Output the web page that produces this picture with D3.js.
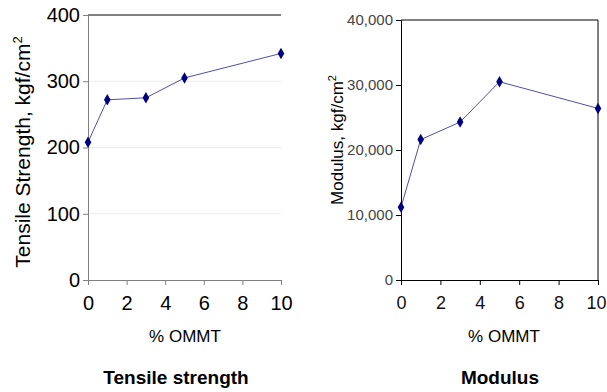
<!DOCTYPE html>
<html>
<head>
<meta charset="utf-8">
<script src="https://cdn.jsdelivr.net/npm/d3@7"></script>
<style>
  body { margin: 0; background: #fff; }
  svg { display: block; }
</style>
</head>
<body>
<script>
// % OMMT loading
var ommt = [0, 1, 3, 5, 10];
// tensile strength, kgf/cm2
var tensile = [208, 272, 275, 305, 342];
// modulus, kgf/cm2
var modulus = [11200, 21600, 24300, 30500, 26400];
var xTicks = [0, 2, 4, 6, 8, 10];
var tensileTicks = [0, 100, 200, 300, 400];
var modulusTicks = [0, 10000, 20000, 30000, 40000];

const width = 607, height = 392;
const sans = "Liberation Sans, Arial, sans-serif";
const narrow = "Liberation Sans Narrow, Arial Narrow, sans-serif";

var svg = d3.select("body").append("svg")
  .attr("width", width)
  .attr("height", height);

function diamond(g, x, y, vals, color) {
  g.selectAll(".pt").data(vals).enter().append("path")
    .attr("class", "pt")
    .attr("d", d3.symbol().type(d3.symbolDiamond).size(38))
    .attr("transform", (d, i) => `translate(${x(ommt[i])},${y(d)})`)
    .attr("fill", color);
}

// ---- left panel: tensile strength ----
(function () {
  var x = d3.scaleLinear().domain([0, 10]).range([88, 281]);
  var y = d3.scaleLinear().domain([0, 400]).range([280, 15]);
  var g = svg.append("g");

  // faint gridlines
  g.selectAll(".grid").data(tensileTicks.slice(1, -1)).enter().append("line")
    .attr("x1", x(0)).attr("x2", x(10))
    .attr("y1", d => y(d)).attr("y2", d => y(d))
    .attr("stroke", "#ececec");
  // top line
  g.append("line")
    .attr("x1", x(0)).attr("x2", x(10))
    .attr("y1", y(400)).attr("y2", y(400))
    .attr("stroke", "#000");

  var yAxis = d3.axisLeft(y).tickValues(tensileTicks).tickSize(5).tickPadding(3);
  var xAxis = d3.axisBottom(x).tickValues(xTicks).tickSize(5).tickPadding(11);
  var ya = g.append("g").attr("transform", `translate(${x(0)},0)`).call(yAxis);
  var xa = g.append("g").attr("transform", `translate(0,${y(0)})`).call(xAxis);
  [ya, xa].forEach(a => {
    a.select(".domain").attr("stroke", "#808080");
    a.selectAll(".tick line").attr("stroke", "#808080");
    a.selectAll("text").attr("font-family", sans)
      .attr("font-size", 20).attr("fill", "#000");
  });

  var line = d3.line().x((d, i) => x(ommt[i])).y(d => y(d));
  g.append("path").datum(tensile).attr("d", line)
    .attr("fill", "none").attr("stroke", "#5050a0").attr("stroke-width", 1);
  diamond(g, x, y, tensile, "#000080");

  var lab = g.append("text")
    .attr("transform", "translate(30,152) rotate(-90)")
    .attr("text-anchor", "middle")
    .attr("font-family", sans)
    .attr("font-size", 21);
  lab.append("tspan").text("Tensile Strength, kgf/cm");
  lab.append("tspan").attr("dy", -8).attr("font-size", 13).text("2");

  g.append("text").attr("x", 185).attr("y", 342)
    .attr("text-anchor", "middle")
    .attr("font-family", sans)
    .attr("font-size", 17).text("% OMMT");
  g.append("text").attr("x", 176).attr("y", 384)
    .attr("text-anchor", "middle")
    .attr("font-family", sans)
    .attr("font-weight", "bold")
    .attr("font-size", 19).text("Tensile strength");
})();

// ---- right panel: modulus ----
(function () {
  var x = d3.scaleLinear().domain([0, 10]).range([401, 598]);
  var y = d3.scaleLinear().domain([0, 40000]).range([280, 20]);
  var g = svg.append("g");

  // box
  g.append("path")
    .attr("d", `M${x(0)},${y(40000)}H${x(10)}V${y(0)}`)
    .attr("fill", "none").attr("stroke", "#000");

  var yAxis = d3.axisLeft(y).tickValues(modulusTicks).tickSize(5).tickPadding(3)
    .tickFormat(d3.format(","));
  var xAxis = d3.axisBottom(x).tickValues(xTicks).tickSize(5).tickPadding(11);
  var ya = g.append("g").attr("transform", `translate(${x(0)},0)`).call(yAxis);
  var xa = g.append("g").attr("transform", `translate(0,${y(0)})`).call(xAxis);
  [ya, xa].forEach(a => {
    a.select(".domain").attr("stroke", "#000");
    a.selectAll(".tick line").attr("stroke", "#000");
    a.selectAll("text").attr("font-family", narrow);
  });
  ya.selectAll("text").attr("font-size", 15).attr("fill", "#444");
  xa.selectAll("text").attr("font-size", 18).attr("fill", "#111");
  // keep the last label inside the page
  xa.selectAll("text").filter(d => d === 10).attr("text-anchor", "end").attr("dx", 8);

  var line = d3.line().x((d, i) => x(ommt[i])).y(d => y(d));
  g.append("path").datum(modulus).attr("d", line)
    .attr("fill", "none").attr("stroke", "#5050a0").attr("stroke-width", 1);
  diamond(g, x, y, modulus, "#000080");

  var lab = g.append("text")
    .attr("transform", "translate(343,140) rotate(-90)")
    .attr("text-anchor", "middle")
    .attr("font-family", sans)
    .attr("font-size", 17);
  lab.append("tspan").text("Modulus, kgf/cm");
  lab.append("tspan").attr("dy", -7).attr("font-size", 11).text("2");

  g.append("text").attr("x", 504).attr("y", 342)
    .attr("text-anchor", "middle")
    .attr("font-family", sans)
    .attr("font-size", 17).text("% OMMT");
  g.append("text").attr("x", 500).attr("y", 384)
    .attr("text-anchor", "middle")
    .attr("font-family", sans)
    .attr("font-weight", "bold")
    .attr("font-size", 19).text("Modulus");
})();
</script>
</body>
</html>
